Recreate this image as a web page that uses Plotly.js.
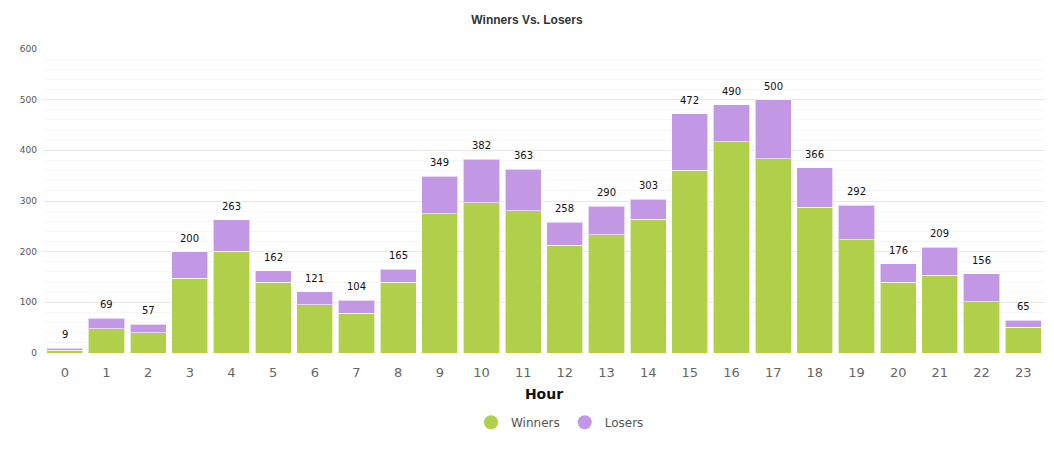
<!DOCTYPE html>
<html><head><meta charset="utf-8">
<script src="https://cdn.plot.ly/plotly-3.0.1.min.js"></script>
<style>html,body{margin:0;padding:0;background:#fff}#chart{width:1054px;height:450px}</style>
</head><body><div id="chart"></div>
<script>
const hours = ['0','1','2','3','4','5','6','7','8','9','10','11','12','13','14','15','16','17','18','19','20','21','22','23'];
const winners = [5,48,40,148,201,140,95,78,140,275,297,281,213,233,264,361,417,383,288,224,140,153,101,51];
const losers  = [4,21,17,52,62,22,26,26,25,74,85,82,45,57,39,111,73,117,78,68,36,56,55,14];
const totals = winners.map((w,i)=>w+losers[i]);

const green = 'rgb(176,208,76)';
const purple = 'rgb(194,151,228)';

const data = [
  {type:'bar', x:hours, y:winners, name:'Winners', marker:{color:green, line:{color:'rgba(255,255,255,0.6)', width:1}}, showlegend:false},
  {type:'bar', x:hours, y:losers, name:'Losers', marker:{color:purple, line:{color:'rgba(255,255,255,0.6)', width:1}}, showlegend:false},
  {type:'scatter', mode:'markers', x:[null], y:[null], name:'Winners', marker:{color:green, size:14, symbol:'circle'}},
  {type:'scatter', mode:'markers', x:[null], y:[null], name:'Losers', marker:{color:purple, size:14, symbol:'circle'}}
];

const annotations = hours.map((h,i)=>({
  x:h, y:totals[i], xref:'x', yref:'y', text:String(totals[i]), showarrow:false,
  yanchor:'bottom', yshift:6,
  font:{family:'DejaVu Sans, Verdana, sans-serif', size:10, color:'#111'}
}));

const layout = {
  width:1054, height:450,
  margin:{l:44, r:10, t:49, b:97},
  paper_bgcolor:'#fff', plot_bgcolor:'#fff',
  barmode:'stack', bargap:0.13,
  title:{text:'<b>Winners Vs. Losers</b>', x:0.5, xanchor:'center', y:0.956, yanchor:'middle',
         font:{family:'Liberation Sans, Arial, sans-serif', size:12, color:'#333'}},
  xaxis:{type:'category', range:[-0.5,23.5], showgrid:false, zeroline:false, showline:false, ticks:'',
         tickfont:{family:'DejaVu Sans, Verdana, sans-serif', size:13, color:'#666'}, ticklabelstandoff:10,
         title:{text:'<b>Hour</b>', standoff:10, font:{family:'DejaVu Sans, Verdana, sans-serif', size:14, color:'#111'}}},
  yaxis:{range:[0,600], dtick:100, showgrid:true, gridcolor:'#e8e8e8', zeroline:false, showline:false, ticks:'',
         tickfont:{family:'DejaVu Sans, Verdana, sans-serif', size:9, color:'#555'}, ticklabelstandoff:6,
         minor:{dtick:20, showgrid:true, gridcolor:'#f6f6f6'}},
  annotations: annotations,
  showlegend:true,
  legend:{orientation:'h', traceorder:'normal', x:0.516, xanchor:'center', y:-0.228, yanchor:'middle',
          font:{family:'DejaVu Sans, Verdana, sans-serif', size:12, color:'#555'}, itemwidth:30, tracegroupgap:0}
};

Plotly.newPlot('chart', data, layout, {displayModeBar:false, staticPlot:true});
</script></body></html>
